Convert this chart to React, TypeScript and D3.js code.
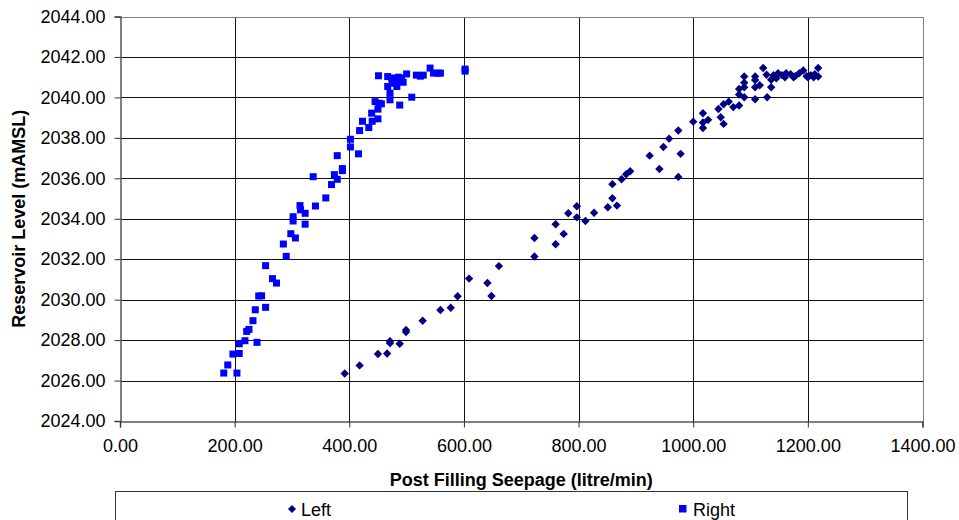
import React, { useRef, useEffect } from 'react';
import * as d3 from 'd3';

// Left abutment seepage (litre/min) vs reservoir level (mAMSL)
const leftSeepage = [
  392, 418, 450, 466, 471, 471, 488, 499, 499, 528, 559, 577, 589, 609, 641, 648, 661,
  723, 723, 760, 760, 774, 782, 797, 797, 812, 827, 851, 859, 859, 867, 875, 883, 890,
  924, 941, 948, 958, 974, 978, 974, 1000, 1017, 1017, 1017, 1026, 1044, 1048, 1053, 1053,
  1062, 1070, 1080, 1080, 1080, 1089, 1089, 1089, 1089, 1108, 1108, 1108, 1108, 1116, 1122,
  1129, 1128, 1136, 1136, 1140, 1145, 1148, 1155, 1160, 1162, 1170, 1175, 1178, 1185, 1192,
  1198, 1200, 1205, 1210, 1212, 1218, 1218,
];
const leftLevel = [
  2026.35, 2026.75, 2027.31, 2027.34, 2027.94, 2027.85, 2027.82, 2028.5, 2028.4, 2028.96,
  2029.49, 2029.6, 2030.17, 2031.04, 2030.82, 2030.18, 2031.66, 2032.13, 2033.05, 2032.74,
  2033.73, 2033.25, 2034.27, 2034.62, 2034.07, 2033.89, 2034.3, 2034.57, 2035.01, 2035.71,
  2034.65, 2035.95, 2036.2, 2036.35, 2037.12, 2036.46, 2037.55, 2037.96, 2038.36, 2037.21,
  2036.07, 2038.8, 2039.22, 2038.76, 2038.49, 2038.89, 2039.43, 2039.02, 2038.69, 2039.66,
  2039.79, 2039.52, 2039.6, 2040.14, 2040.42, 2040.01, 2040.5, 2040.73, 2041.03, 2039.91,
  2040.5, 2040.86, 2041.03, 2040.6, 2041.45, 2040.01, 2041.12, 2040.5, 2040.87, 2041.1,
  2040.95, 2041.2, 2041.1, 2041.0, 2041.2, 2041.15, 2041.0, 2041.05, 2041.2, 2041.33,
  2041.05, 2041.0, 2041.1, 2041.0, 2041.15, 2041.45, 2041.03,
];

// Right abutment
const rightSeepage = [
  181, 204, 188, 197, 208, 208, 218, 239, 221, 225, 232, 236, 254, 242, 247, 266, 273, 254,
  290, 285, 298, 306, 302, 302, 314, 315, 323, 323, 341, 359, 337, 369, 374, 379, 379, 388,
  388, 402, 402, 416, 418, 423, 434, 439, 440, 445, 450, 450, 452, 456, 451, 471, 471, 467,
  467, 474, 480, 486, 491, 475, 483, 494, 483, 488, 500, 509, 517, 524, 529, 541, 547, 555,
  559, 602, 602,
];
const rightLevel = [
  2026.37, 2026.37, 2026.77, 2027.31, 2027.34, 2027.82, 2027.97, 2027.89, 2028.43, 2028.53,
  2028.96, 2029.5, 2029.62, 2030.18, 2030.19, 2031.04, 2030.82, 2031.68, 2032.14, 2032.75,
  2033.26, 2033.05, 2033.89, 2034.1, 2034.65, 2034.44, 2034.27, 2033.73, 2034.63, 2035.03,
  2036.08, 2035.69, 2036.18, 2035.95, 2037.12, 2036.48, 2036.38, 2037.93, 2037.55, 2037.21,
  2038.36, 2038.82, 2038.51, 2039.22, 2038.82, 2039.79, 2038.94, 2039.42, 2039.71, 2039.68,
  2041.07, 2039.88, 2040.21, 2040.54, 2041.03, 2040.95, 2040.95, 2041.0, 2040.95, 2040.7,
  2040.75, 2040.75, 2040.54, 2039.62, 2041.16, 2040.01, 2041.1, 2041.05, 2041.1, 2041.45,
  2041.2, 2041.2, 2041.2, 2041.4, 2041.3,
];

const xTicks = [0, 200, 400, 600, 800, 1000, 1200, 1400];
const yTicks = [2024, 2026, 2028, 2030, 2032, 2034, 2036, 2038, 2040, 2042, 2044];

const WIDTH = 959;
const HEIGHT = 520;
const FONT = '"Liberation Sans", Arial, sans-serif';
const LEFT_COLOR = '#000080';
const RIGHT_COLOR = '#0000ff';

const diamond = 'M0,-4.2L4.2,0L0,4.2L-4.2,0Z';

const App = () => {
  const svgRef = useRef<SVGSVGElement | null>(null);

  useEffect(() => {
    if (!svgRef.current) return;
    const svg = d3.select(svgRef.current);
    svg.selectAll('*').remove();

    const plot = { left: 120, right: 922.5, top: 16.5, bottom: 421 };

    const x = d3.scaleLinear().domain([0, 1400]).range([plot.left, plot.right]);
    const y = d3.scaleLinear().domain([2024, 2044]).range([plot.bottom, plot.top]);
    const px = (v: number) => Math.round(x(v)) + 0.5;
    const py = (v: number) => Math.round(y(v)) + 0.5;

    svg.append('rect').attr('width', WIDTH).attr('height', HEIGHT).attr('fill', '#fff');

    // Grid lines
    const grid = svg.append('g').attr('shape-rendering', 'crispEdges');
    grid.selectAll('.vgrid')
      .data(xTicks.slice(1, -1))
      .enter()
      .append('line')
      .attr('x1', (d) => px(d))
      .attr('x2', (d) => px(d))
      .attr('y1', py(2044))
      .attr('y2', py(2024))
      .attr('stroke', '#111')
      .attr('stroke-width', 1);

    grid.selectAll('.hgrid')
      .data(yTicks.slice(1, -1))
      .enter()
      .append('line')
      .attr('x1', px(0))
      .attr('x2', px(1400))
      .attr('y1', (d) => py(d))
      .attr('y2', (d) => py(d))
      .attr('stroke', '#111')
      .attr('stroke-width', 1);

    // Plot border (top / right)
    grid.append('path')
      .attr('d', `M${px(0)},${py(2044)}H${px(1400)}V${py(2024)}`)
      .attr('fill', 'none')
      .attr('stroke', '#808080')
      .attr('stroke-width', 1.5);

    // Y axis
    const yAxisG = svg.append('g')
      .attr('transform', `translate(${px(0)},0)`)
      .call(d3.axisLeft(y).tickValues(yTicks).tickSize(6).tickPadding(9).tickFormat(d3.format('.2f')));
    yAxisG.select('.domain').attr('stroke', '#555').attr('stroke-width', 1.5);
    yAxisG.selectAll('.tick line').attr('stroke', '#333');
    yAxisG.selectAll('text')
      .attr('fill', '#000')
      .style('font-size', '18px')
      .style('font-family', FONT);

    // X axis
    const xAxisG = svg.append('g')
      .attr('transform', `translate(0,${py(2024)})`)
      .call(d3.axisBottom(x).tickValues(xTicks).tickSize(6).tickPadding(12).tickFormat(d3.format('.2f')));
    xAxisG.select('.domain').attr('stroke', '#555').attr('stroke-width', 1.5);
    xAxisG.selectAll('.tick line').attr('stroke', '#333');
    xAxisG.selectAll('text')
      .attr('fill', '#000')
      .style('font-size', '18px')
      .style('font-family', FONT);

    // Right series (squares)
    const rightData = rightSeepage.map((v, i) => ({ x: v, y: rightLevel[i] }));
    svg.append('g')
      .selectAll('rect')
      .data(rightData)
      .enter()
      .append('rect')
      .attr('x', (d) => x(d.x) - 3.5)
      .attr('y', (d) => y(d.y) - 3.5)
      .attr('width', 7)
      .attr('height', 7)
      .attr('fill', RIGHT_COLOR);

    // Left series (diamonds)
    const leftData = leftSeepage.map((v, i) => ({ x: v, y: leftLevel[i] }));
    svg.append('g')
      .selectAll('path')
      .data(leftData)
      .enter()
      .append('path')
      .attr('d', diamond)
      .attr('transform', (d) => `translate(${x(d.x)},${y(d.y)})`)
      .attr('fill', LEFT_COLOR);

    // Axis titles
    svg.append('text')
      .attr('x', (plot.left + plot.right) / 2)
      .attr('y', 486)
      .attr('text-anchor', 'middle')
      .style('font-size', '18px')
      .style('font-weight', 'bold')
      .style('font-family', FONT)
      .text('Post Filling Seepage (litre/min)');

    svg.append('text')
      .attr('transform', `translate(25,${(plot.top + plot.bottom) / 2}) rotate(-90)`)
      .attr('text-anchor', 'middle')
      .style('font-size', '18px')
      .style('font-weight', 'bold')
      .style('font-family', FONT)
      .text('Reservoir Level (mAMSL)');

    // Legend
    const legendG = svg.append('g');
    legendG.append('rect')
      .attr('x', 115.5)
      .attr('y', 491.5)
      .attr('width', 792)
      .attr('height', 40)
      .attr('fill', '#fff')
      .attr('stroke', '#333')
      .attr('stroke-width', 1)
      .attr('shape-rendering', 'crispEdges');

    legendG.append('path')
      .attr('d', 'M0,-4L4,0L0,4L-4,0Z')
      .attr('transform', 'translate(292,509)')
      .attr('fill', LEFT_COLOR);
    legendG.append('text')
      .attr('x', 301)
      .attr('y', 515.5)
      .style('font-size', '18px')
      .style('font-family', FONT)
      .text('Left');

    legendG.append('rect')
      .attr('x', 679)
      .attr('y', 505)
      .attr('width', 7.5)
      .attr('height', 7.5)
      .attr('fill', RIGHT_COLOR);
    legendG.append('text')
      .attr('x', 693)
      .attr('y', 515.5)
      .style('font-size', '18px')
      .style('font-family', FONT)
      .text('Right');

    return () => {
      svg.selectAll('*').remove();
    };
  }, []);

  return (
    <div style={{ position: 'absolute', left: 0, top: 0, width: WIDTH, height: HEIGHT, overflow: 'hidden' }}>
      <svg ref={svgRef} width={WIDTH} height={HEIGHT} style={{ display: 'block' }} />
    </div>
  );
};

export default App;
